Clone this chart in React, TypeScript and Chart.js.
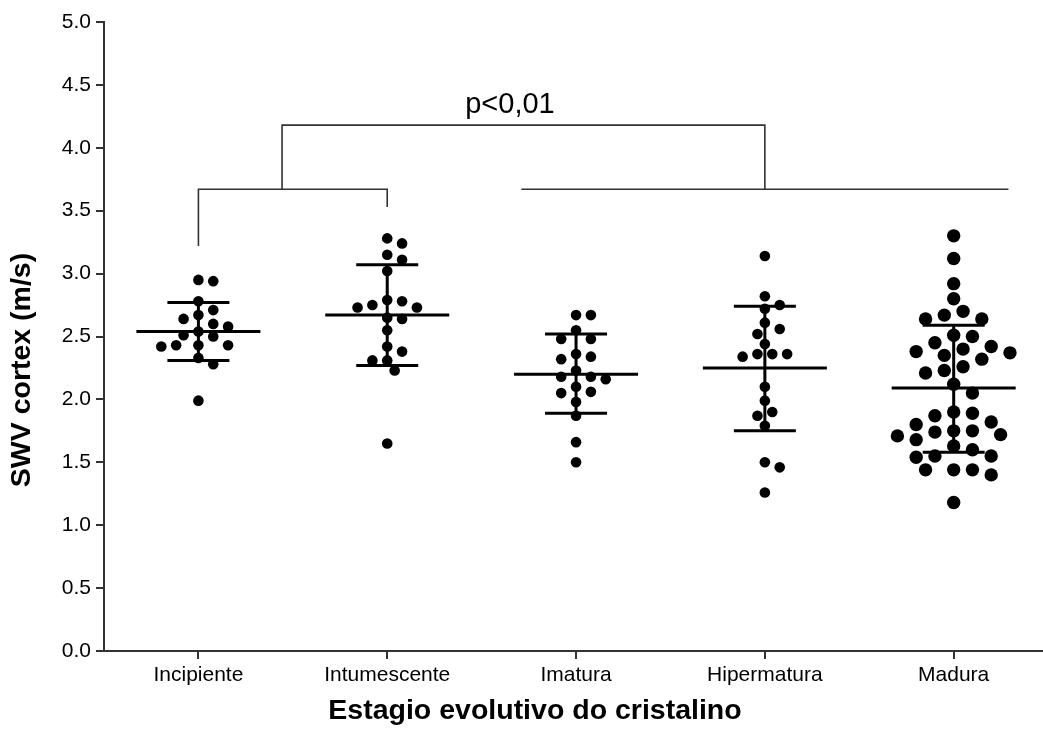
import { useEffect, useRef } from "react";
import { Chart, registerables } from "chart.js";

Chart.register(...registerables);

// ---- data ----
const categories = ["Incipiente", "Intumescente", "Imatura", "Hipermatura", "Madura"];

const incipiente = [2.94, 2.95, 2.78, 2.71, 2.64, 2.67, 2.58, 2.6, 2.54, 2.5, 2.51, 2.43, 2.42, 2.43, 2.43, 2.33, 2.28, 1.99];
const intumescente = [3.28, 3.24, 3.15, 3.11, 3.02, 2.79, 2.75, 2.78, 2.73, 2.73, 2.64, 2.65, 2.55, 2.42, 2.38, 2.31, 2.31, 2.23, 1.65];
const imatura = [2.67, 2.67, 2.55, 2.48, 2.48, 2.34, 2.36, 2.32, 2.23, 2.16, 2.18, 2.18, 2.1, 2.06, 2.05, 1.98, 1.87, 1.66, 1.5];
const hipermatura = [3.14, 2.82, 2.75, 2.72, 2.61, 2.56, 2.52, 2.44, 2.36, 2.36, 2.36, 2.34, 2.1, 1.99, 1.9, 1.87, 1.79, 1.5, 1.46, 1.26];
const madura = [
  3.3, 3.12, 2.92, 2.8, 2.67, 2.7, 2.64, 2.64, 2.5, 2.51, 2.42, 2.45, 2.4, 2.38, 2.37, 2.32, 2.35, 2.23, 2.26, 2.21, 2.12,
  2.05, 1.89, 1.9, 1.82, 1.87, 1.8, 1.75, 1.71, 1.74, 1.72, 1.75, 1.68, 1.63, 1.6, 1.55, 1.55, 1.54, 1.44, 1.44, 1.4,
  1.44, 1.18,
];

const means = [2.54, 2.67, 2.2, 2.25, 2.09];
const sdUpper = [2.77, 3.07, 2.52, 2.74, 2.59];
const sdLower = [2.31, 2.27, 1.89, 1.75, 1.58];

const yTicks = [0, 0.5, 1, 1.5, 2, 2.5, 3, 3.5, 4, 4.5, 5];

const groups = [incipiente, intumescente, imatura, hipermatura, madura];

// significance annotation (data units)
const bracketLevel = 3.67;
const bracketTop = 4.18;
const leftBracketFeet = [3.22, 3.53];
const bracketJoinX = 1.443;
const rightLineX = [2.71, 5.29];
const pLabel = "p<0,01";
const pLabelPos = { x: 2.65, y: 4.34 };

const xTitle = "Estagio evolutivo do cristalino";
const yTitle = "SWV cortex (m/s)";

const FONT = "'Liberation Sans', Arial, Helvetica, sans-serif";
const INK = "#000000";
const AXIS = "#333333";

function swarm(chart: Chart) {
  const xs: any = chart.scales.x;
  const ys: any = chart.scales.y;
  chart.data.datasets.forEach((ds: any, gi: number) => {
    const vals: number[] = groups[gi];
    const r = ds.pointRadius as number;
    const cx = xs.getPixelForValue(gi + 1);
    const step = 2 * r * 0.7;
    const minD = 2 * r * 1.12;
    const order = vals.map((v, i) => i).sort((a, b) => vals[b] - vals[a]);
    const placed: { x: number; y: number }[] = [];
    const out: { x: number; y: number }[] = new Array(vals.length);
    order.forEach((idx) => {
      const py = ys.getPixelForValue(vals[idx]);
      let off = 0;
      for (let k = 0; k < 80; k++) {
        const cand = k === 0 ? 0 : (k % 2 === 1 ? 1 : -1) * Math.ceil(k / 2) * step;
        const ok = placed.every((p) => Math.hypot(p.x - (cx + cand), p.y - py) >= minD);
        if (ok) {
          off = cand;
          break;
        }
      }
      placed.push({ x: cx + off, y: py });
      out[idx] = { x: xs.getValueForPixel(cx + off), y: vals[idx] };
    });
    ds.data = out;
  });
  chart.update("none");
}

const overlayPlugin = {
  id: "overlay",
  afterDatasetsDraw(chart: any) {
    const ctx = chart.ctx as CanvasRenderingContext2D;
    const xs = chart.scales.x;
    const ys = chart.scales.y;
    ctx.save();
    // mean and SD bars
    ctx.strokeStyle = INK;
    ctx.lineWidth = 3;
    ctx.lineCap = "butt";
    categories.forEach((_, i) => {
      const cx = xs.getPixelForValue(i + 1);
      const ym = ys.getPixelForValue(means[i]);
      const yu = ys.getPixelForValue(sdUpper[i]);
      const yl = ys.getPixelForValue(sdLower[i]);
      ctx.beginPath();
      ctx.moveTo(cx - 62, ym);
      ctx.lineTo(cx + 62, ym);
      ctx.moveTo(cx - 31, yu);
      ctx.lineTo(cx + 31, yu);
      ctx.moveTo(cx - 31, yl);
      ctx.lineTo(cx + 31, yl);
      ctx.moveTo(cx, yu);
      ctx.lineTo(cx, yl);
      ctx.stroke();
    });
    // significance brackets
    ctx.strokeStyle = AXIS;
    ctx.lineWidth = 1.6;
    const yb = ys.getPixelForValue(bracketLevel);
    const yt = ys.getPixelForValue(bracketTop);
    ctx.beginPath();
    ctx.moveTo(xs.getPixelForValue(1), ys.getPixelForValue(leftBracketFeet[0]));
    ctx.lineTo(xs.getPixelForValue(1), yb);
    ctx.lineTo(xs.getPixelForValue(2), yb);
    ctx.lineTo(xs.getPixelForValue(2), ys.getPixelForValue(leftBracketFeet[1]));
    ctx.moveTo(xs.getPixelForValue(bracketJoinX), yb);
    ctx.lineTo(xs.getPixelForValue(bracketJoinX), yt);
    ctx.lineTo(xs.getPixelForValue(4), yt);
    ctx.lineTo(xs.getPixelForValue(4), yb);
    ctx.moveTo(xs.getPixelForValue(rightLineX[0]), yb);
    ctx.lineTo(xs.getPixelForValue(rightLineX[1]), yb);
    ctx.stroke();
    ctx.fillStyle = INK;
    ctx.font = `29px ${FONT}`;
    ctx.textAlign = "center";
    ctx.textBaseline = "middle";
    ctx.fillText(pLabel, xs.getPixelForValue(pLabelPos.x), ys.getPixelForValue(pLabelPos.y));
    ctx.restore();
  },
  afterDraw(chart: any) {
    // axis titles (GraphPad places them off the plot-area centre)
    const ctx = chart.ctx as CanvasRenderingContext2D;
    ctx.save();
    ctx.fillStyle = INK;
    ctx.font = `bold 28.5px ${FONT}`;
    ctx.textAlign = "center";
    ctx.textBaseline = "middle";
    ctx.fillText(xTitle, 535, 711);
    ctx.translate(22, 370);
    ctx.rotate(-Math.PI / 2);
    ctx.fillText(yTitle, 0, 0);
    ctx.restore();
  },
};

export default function App() {
  const ref = useRef<HTMLCanvasElement | null>(null);
  useEffect(() => {
    if (!ref.current) return;
    const chart = new Chart(ref.current, {
      type: "scatter",
      data: {
        datasets: groups.map((vals, gi) => ({
          label: categories[gi],
          data: vals.map((v) => ({ x: gi + 1, y: v })),
          pointRadius: gi === 4 ? 6.7 : 5.3,
          pointHoverRadius: gi === 4 ? 6.7 : 5.3,
          pointBackgroundColor: INK,
          pointBorderColor: INK,
          pointBorderWidth: 0,
          showLine: false,
        })),
      },
      options: {
        animation: false,
        responsive: false,
        devicePixelRatio: 1,
        layout: { autoPadding: false, padding: { top: 22, right: 0, bottom: 0, left: 0 } },
        plugins: { legend: { display: false }, tooltip: { enabled: false } },
        scales: {
          x: {
            type: "linear",
            min: 0.5,
            max: 5.473,
            afterFit: (s: any) => {
              s.height = 96;
              s.paddingLeft = 0;
              s.paddingRight = 0;
            },
            afterBuildTicks: (s: any) => {
              s.ticks = categories.map((_, i) => ({ value: i + 1 }));
            },
            ticks: {
              autoSkip: false,
              maxRotation: 0,
              padding: 4,
              color: INK,
              font: { family: FONT, size: 21 },
              callback: (v: any) => categories[Math.round(Number(v)) - 1] ?? "",
            },
            grid: { drawOnChartArea: false, drawTicks: true, tickLength: 8, color: AXIS, lineWidth: 2 },
            border: { display: true, color: AXIS, width: 2 },
            title: { display: false },
          },
          y: {
            type: "linear",
            min: 0,
            max: 5,
            afterFit: (s: any) => {
              s.width = 104;
            },
            afterBuildTicks: (s: any) => {
              s.ticks = yTicks.map((v) => ({ value: v }));
            },
            ticks: {
              padding: 5,
              color: INK,
              font: { family: FONT, size: 21 },
              callback: (v: any) => Number(v).toFixed(1),
            },
            grid: { drawOnChartArea: false, drawTicks: true, tickLength: 8, color: AXIS, lineWidth: 2 },
            border: { display: true, color: AXIS, width: 2 },
            title: { display: false },
          },
        },
      },
      plugins: [overlayPlugin],
    } as any);
    swarm(chart);
    return () => chart.destroy();
  }, []);
  return (
    <div style={{ position: "absolute", left: 0, top: 0, width: 1043, height: 747, background: "#fff" }}>
      <canvas ref={ref} width={1043} height={747} style={{ display: "block", width: 1043, height: 747 }} />
    </div>
  );
}
